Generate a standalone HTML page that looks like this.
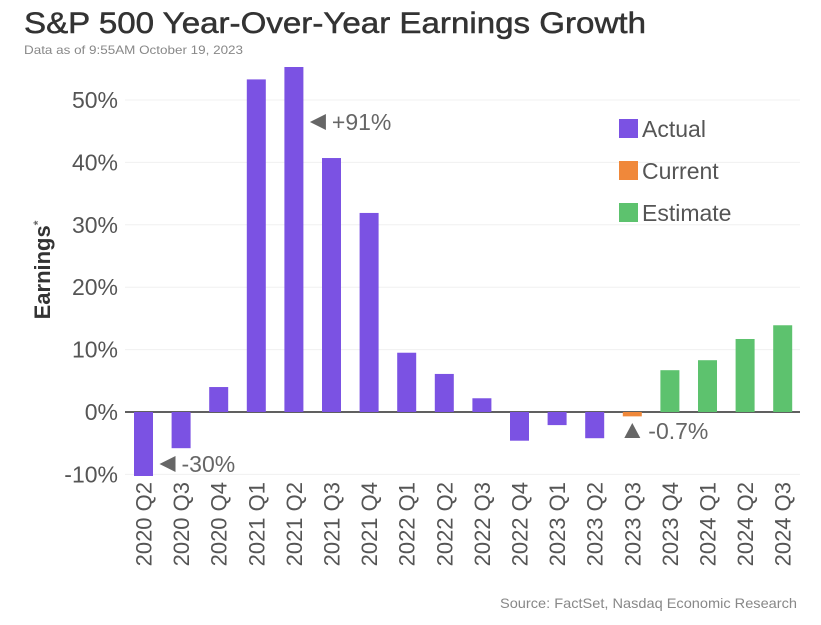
<!DOCTYPE html>
<html><head><meta charset="utf-8"><style>
body{margin:0;background:#fff;font-family:"Liberation Sans","DejaVu Sans",sans-serif;}
svg text{font-family:"Liberation Sans","DejaVu Sans",sans-serif;}
</style></head><body>
<svg id="c" width="821" height="620">
<text x="24" y="33" font-size="30" fill="#333" stroke="#333" stroke-width="0.5" textLength="622" lengthAdjust="spacingAndGlyphs">S&amp;P 500 Year-Over-Year Earnings Growth</text>
<text x="24" y="54" font-size="12" fill="#888" textLength="219" lengthAdjust="spacingAndGlyphs">Data as of 9:55AM October 19, 2023</text>
<text transform="translate(50,270) rotate(-90)" text-anchor="middle" font-size="22" font-weight="bold" fill="#333">Earnings<tspan font-size="12" dy="-8" fill="#666">*</tspan></text>
<g id="grid"></g><g id="bars"></g><g id="xl"></g>
<g>
<rect x="619" y="119" width="19" height="19" fill="#7B52E3"/>
<text x="642" y="137" font-size="23" fill="#555">Actual</text>
<rect x="619" y="161" width="19" height="19" fill="#F0883A"/>
<text x="642" y="179" font-size="23" fill="#555">Current</text>
<rect x="619" y="203" width="19" height="19" fill="#5DC26E"/>
<text x="642" y="221" font-size="23" fill="#555">Estimate</text>
</g>
<g id="ann"></g>
<text x="797" y="608" text-anchor="end" font-size="14" fill="#888" textLength="297" lengthAdjust="spacingAndGlyphs">Source: FactSet, Nasdaq Economic Research</text>
</svg>
<script>
const categories=["2020 Q2","2020 Q3","2020 Q4","2021 Q1","2021 Q2","2021 Q3","2021 Q4","2022 Q1","2022 Q2","2022 Q3","2022 Q4","2023 Q1","2023 Q2","2023 Q3","2023 Q4","2024 Q1","2024 Q2","2024 Q3"];
const values=[-30,-5.8,4.0,53.3,91,40.7,31.9,9.5,6.1,2.2,-4.6,-2.1,-4.2,-0.7,6.7,8.3,11.7,13.9];
const kinds=["a","a","a","a","a","a","a","a","a","a","a","a","a","c","e","e","e","e"];
const yTicks=[-10,0,10,20,30,40,50];
const NS="http://www.w3.org/2000/svg";
const plotL=125,plotR=800,plotT=67,plotB=476;
const y0=412,pxPer=6.24;
function y(v){return y0-v*pxPer;}
function xc(i){return 143.5+i*37.6;}
function clampY(v){return Math.max(plotT,Math.min(plotB,y(v)));}
const col={a:"#7B52E3",c:"#F0883A",e:"#5DC26E"};
function mk(t,a,p){const e=document.createElementNS(NS,t);for(const k in a)e.setAttribute(k,a[k]);(p||document.getElementById('c')).appendChild(e);return e;}
const grid=document.getElementById('grid');
yTicks.forEach(t=>{
 const l=mk('line',{x1:plotL,x2:plotR,y1:y(t),y2:y(t),stroke:t===0?"#000":"#f0f0f0","stroke-width":t===0?1.3:1},grid);
 
 
 const tx=mk('text',{x:118,y:y(t)+8,"text-anchor":"end","font-size":23,fill:"#555"},grid);
 tx.textContent=t+"%";
 
 
});
const bars=document.getElementById('bars');
values.forEach((v,i)=>{
 const a=clampY(Math.max(v,0)),b=clampY(Math.min(v,0));
 const r=mk('rect',{x:xc(i)-9.5,y:a,width:19,height:Math.max(b-a,0.5),fill:col[kinds[i]]},bars);
 
 
});
const xl=document.getElementById('xl');
categories.forEach((c,i)=>{
 const t=mk('text',{transform:`translate(${xc(i)+8},482) rotate(-90)`,"text-anchor":"end","font-size":22,fill:"#555"},xl);
 t.textContent=c;
 
 
});
const ann=document.getElementById('ann');
function note(i,v,txt,up,yy){
 const x=xc(i)+16;
 if(up){mk('polygon',{points:`${xc(i)-8},${yy+7} ${xc(i)+8},${yy+7} ${xc(i)},${yy-8}`,fill:"#666"},ann);}
 else{mk('polygon',{points:`${x},${yy} ${x+16},${yy-8} ${x+16},${yy+8}`,fill:"#666"},ann);}
 const t=mk('text',{x:up?xc(i)+16:x+22,y:yy+8,"font-size":23,fill:"#666"},ann);
 t.textContent=txt;
 
 
}
note(4,values[4],"+"+values[4]+"%",false,122);
note(0,values[0],values[0]+"%",false,464);
note(13,values[13],values[13]+"%",true,431);
</script>
</body></html>
